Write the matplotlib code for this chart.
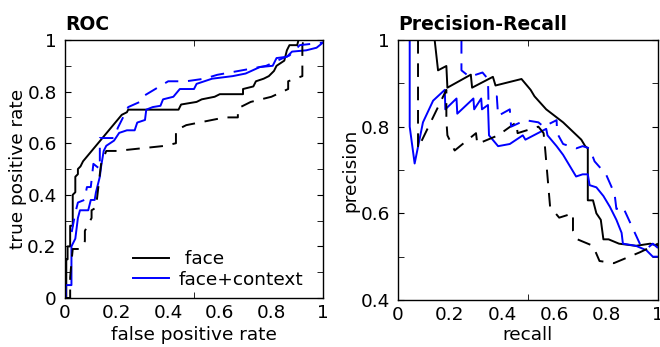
import matplotlib
matplotlib.use("Agg")
import matplotlib.pyplot as plt
from matplotlib.ticker import FixedLocator, FixedFormatter

# ---- data ----
roc_face_fpr = [0, 0.005, 0.005, 0.01, 0.01, 0.02, 0.02, 0.03, 0.03, 0.04, 0.04, 0.05, 0.05, 0.06, 0.07, 0.22, 0.24, 0.245, 0.44, 0.45, 0.51, 0.53, 0.58, 0.6, 0.69, 0.69, 0.73, 0.74, 0.77, 0.79, 0.81, 0.82, 0.85, 0.86, 0.87, 0.9, 0.905, 1.0]
roc_face_tpr = [0, 0, 0.15, 0.15, 0.2, 0.2, 0.28, 0.28, 0.4, 0.41, 0.47, 0.48, 0.5, 0.51, 0.53, 0.71, 0.72, 0.73, 0.73, 0.75, 0.76, 0.77, 0.78, 0.79, 0.79, 0.81, 0.82, 0.84, 0.85, 0.86, 0.88, 0.9, 0.92, 0.96, 0.98, 0.98, 1.0, 1.0]

roc_face_dash_fpr = [0, 0.02, 0.02, 0.026, 0.03, 0.06, 0.077, 0.077, 0.103, 0.103, 0.12, 0.135, 0.14, 0.16, 0.2, 0.39, 0.43, 0.43, 0.47, 0.57, 0.62, 0.67, 0.67, 0.72, 0.8, 0.865, 0.865, 0.92, 0.92, 0.925, 1.0]
roc_face_dash_tpr = [0, 0, 0.08, 0.15, 0.19, 0.19, 0.22, 0.26, 0.31, 0.34, 0.35, 0.48, 0.52, 0.57, 0.57, 0.59, 0.6, 0.65, 0.67, 0.69, 0.70, 0.70, 0.735, 0.76, 0.78, 0.81, 0.84, 0.86, 0.98, 1.0, 1.0]

roc_ctx_fpr = [0, 0.003, 0.003, 0.025, 0.025, 0.04, 0.05, 0.058, 0.09, 0.1, 0.115, 0.12, 0.135, 0.14, 0.15, 0.16, 0.19, 0.21, 0.24, 0.27, 0.28, 0.31, 0.315, 0.34, 0.37, 0.38, 0.42, 0.445, 0.5, 0.51, 0.57, 0.65, 0.70, 0.755, 0.805, 0.82, 0.86, 0.88, 0.935, 0.975, 1.0]
roc_ctx_tpr = [0, 0, 0.05, 0.05, 0.2, 0.23, 0.31, 0.34, 0.34, 0.38, 0.38, 0.41, 0.47, 0.51, 0.57, 0.59, 0.61, 0.64, 0.65, 0.65, 0.68, 0.69, 0.73, 0.74, 0.745, 0.77, 0.78, 0.81, 0.81, 0.83, 0.85, 0.86, 0.87, 0.895, 0.90, 0.93, 0.935, 0.955, 0.96, 0.97, 0.99]

roc_ctx_dash_fpr = [0, 0, 0.01, 0.025, 0.04, 0.05, 0.075, 0.085, 0.1, 0.11, 0.135, 0.135, 0.19, 0.205, 0.245, 0.29, 0.3, 0.35, 0.4, 0.47, 0.54, 0.59, 0.70, 0.78, 0.845, 0.87, 0.91, 1.0]
roc_ctx_dash_tpr = [0.1, 0.25, 0.25, 0.25, 0.33, 0.37, 0.38, 0.43, 0.43, 0.52, 0.5, 0.62, 0.62, 0.66, 0.74, 0.76, 0.78, 0.81, 0.84, 0.84, 0.85, 0.865, 0.885, 0.9, 0.93, 0.94, 0.98, 0.99]

pr_face_rec = [0.141, 0.154, 0.186, 0.19, 0.28, 0.285, 0.365, 0.375, 0.475, 0.51, 0.525, 0.57, 0.635, 0.705, 0.72, 0.73, 0.73, 0.75, 0.763, 0.78, 0.79, 0.81, 0.85, 0.915, 0.97, 1.0]
pr_face_prec = [1.0, 0.93, 0.94, 0.89, 0.92, 0.89, 0.915, 0.895, 0.91, 0.885, 0.87, 0.84, 0.81, 0.77, 0.755, 0.75, 0.63, 0.63, 0.60, 0.585, 0.54, 0.54, 0.53, 0.525, 0.53, 0.525]

pr_face_dash_rec = [0.077, 0.077, 0.186, 0.186, 0.19, 0.218, 0.30, 0.305, 0.385, 0.455, 0.46, 0.54, 0.56, 0.565, 0.585, 0.62, 0.673, 0.673, 0.69, 0.75, 0.775, 0.83, 0.93, 1.0]
pr_face_dash_prec = [1.0, 0.75, 0.885, 0.815, 0.78, 0.745, 0.785, 0.76, 0.78, 0.81, 0.785, 0.80, 0.785, 0.755, 0.615, 0.59, 0.60, 0.56, 0.54, 0.525, 0.49, 0.485, 0.51, 0.53]

pr_ctx_rec = [0.045, 0.045, 0.064, 0.096, 0.135, 0.18, 0.182, 0.225, 0.228, 0.29, 0.293, 0.32, 0.323, 0.346, 0.35, 0.385, 0.43, 0.48, 0.49, 0.57, 0.575, 0.61, 0.635, 0.66, 0.685, 0.71, 0.73, 0.737, 0.763, 0.79, 0.815, 0.84, 0.86, 0.865, 0.915, 0.955, 0.98, 1.0]
pr_ctx_prec = [1.0, 0.8, 0.715, 0.81, 0.86, 0.885, 0.84, 0.865, 0.83, 0.865, 0.84, 0.865, 0.84, 0.85, 0.78, 0.755, 0.76, 0.78, 0.77, 0.795, 0.78, 0.755, 0.735, 0.71, 0.685, 0.69, 0.69, 0.665, 0.66, 0.64, 0.615, 0.585, 0.555, 0.53, 0.525, 0.515, 0.50, 0.50]

pr_ctx_dash_rec = [0.244, 0.244, 0.275, 0.325, 0.346, 0.348, 0.38, 0.385, 0.43, 0.435, 0.49, 0.54, 0.56, 0.61, 0.612, 0.635, 0.66, 0.686, 0.71, 0.737, 0.756, 0.8, 0.833, 0.84, 0.865, 0.93, 0.96, 0.98, 1.0]
pr_ctx_dash_prec = [1.0, 0.93, 0.915, 0.925, 0.91, 0.86, 0.87, 0.825, 0.84, 0.80, 0.815, 0.81, 0.80, 0.815, 0.785, 0.76, 0.755, 0.75, 0.755, 0.75, 0.72, 0.69, 0.645, 0.61, 0.615, 0.53, 0.52, 0.53, 0.52]

x_tick_labels = ["0", "0.2", "0.4", "0.6", "0.8", "1"]
roc_y_labels = ["0", "0.2", "0.4", "0.6", "0.8", "1"]
pr_y_labels = ["0.4", "0.6", "0.8", "1"]

plt.rcParams['font.family'] = ['DejaVu Sans']
fig = plt.figure(figsize=(6.6, 3.47), dpi=100)

ax1 = fig.add_axes([65/660, 49/347, 258/660, 258/347])
ax2 = fig.add_axes([398/660, 47/347, 260/660, 260/347])

BLUE = '#0000ff'
lw = 1.4
dash = (0, (7, 5))

ax1.plot(roc_face_fpr, roc_face_tpr, color='black', lw=lw, label=' face')
ax1.plot(roc_ctx_fpr, roc_ctx_tpr, color=BLUE, lw=lw, label='face+context')
ax1.plot(roc_face_dash_fpr, roc_face_dash_tpr, color='black', lw=lw, linestyle=dash)
ax1.plot(roc_ctx_dash_fpr, roc_ctx_dash_tpr, color=BLUE, lw=lw, linestyle=dash)

ax2.plot(pr_face_rec, pr_face_prec, color='black', lw=lw)
ax2.plot(pr_ctx_rec, pr_ctx_prec, color=BLUE, lw=lw)
ax2.plot(pr_face_dash_rec, pr_face_dash_prec, color='black', lw=lw, linestyle=dash)
ax2.plot(pr_ctx_dash_rec, pr_ctx_dash_prec, color=BLUE, lw=lw, linestyle=dash)

fs = 13.3
xpos = [0, 0.2, 0.4, 0.6, 0.8, 1.0]
for ax, ylim, ylabs in [(ax1, (0, 1), roc_y_labels), (ax2, (0.4, 1), pr_y_labels)]:
    ax.set_xlim(0, 1)
    ax.set_ylim(*ylim)
    ax.xaxis.set_major_locator(FixedLocator(xpos))
    ax.xaxis.set_major_formatter(FixedFormatter(x_tick_labels))
    ax.xaxis.set_minor_locator(FixedLocator([0.5]))
    ax.tick_params(axis='x', which='major', length=0, labelsize=fs, pad=4)
    ax.tick_params(axis='x', which='minor', length=4, direction='in', top=True, bottom=True)
    ypos = [ylim[0] + 0.2 * i for i in range(len(ylabs))]
    ax.yaxis.set_major_locator(FixedLocator(ypos))
    ax.yaxis.set_major_formatter(FixedFormatter(ylabs))
    ymin = [round(ylim[0] + 0.1 * i, 2) for i in range(int(round((ylim[1] - ylim[0]) / 0.1)) + 1)]
    ax.yaxis.set_minor_locator(FixedLocator(ymin))
    ax.tick_params(axis='y', which='both', length=4, direction='in', left=True, right=True, labelsize=fs, pad=6)
    for s in ax.spines.values():
        s.set_linewidth(1.0)

ax1.set_xlabel('false positive rate', fontsize=fs, labelpad=3)
ax1.set_ylabel('true positive rate', fontsize=fs, labelpad=0)
ax2.set_xlabel('recall', fontsize=fs, labelpad=2)
ax2.set_ylabel('precision', fontsize=fs, labelpad=1)

ax1.set_title('ROC', loc='left', fontsize=13.5, fontweight='bold', pad=7)
ax2.set_title('Precision-Recall', loc='left', fontsize=13.5, fontweight='bold', pad=7)

ax1.legend(loc='lower right', frameon=False, fontsize=fs, handlelength=2.0,
           handletextpad=0.5, labelspacing=0.15, borderaxespad=0.1,
           bbox_to_anchor=(0.96, 0.0))

fig.savefig('out.png', dpi=100)
